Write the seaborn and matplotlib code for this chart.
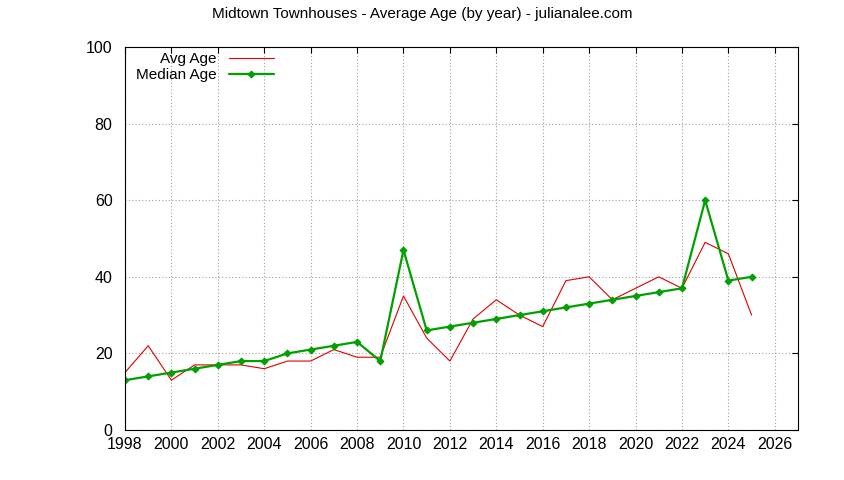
import matplotlib
matplotlib.use("Agg")
import matplotlib.pyplot as plt
import seaborn as sns
import pandas as pd

years = list(range(1998, 2026))
avg_age = [15, 22, 13, 17, 17, 17, 16, 18, 18, 21, 19, 19, 35, 24, 18, 29, 34, 30, 27, 39, 40, 34, 37, 40, 37, 49, 46, 30]
median_age = [13, 14, 15, 16, 17, 18, 18, 20, 21, 22, 23, 18, 47, 26, 27, 28, 29, 30, 31, 32, 33, 34, 35, 36, 37, 60, 39, 40]

sns.set_style("white")
plt.rcParams['font.family'] = ['Liberation Sans', 'DejaVu Sans']
plt.rcParams['text.color'] = 'black'
df = pd.DataFrame({"year": years, "avg": avg_age, "med": median_age})

fig = plt.figure(figsize=(8.44, 4.8), dpi=100)
ax = fig.add_axes([125/844, 50/480, 673/844, 383/480])
sns.lineplot(data=df, x="year", y="avg", ax=ax, color="#e00000", lw=0.8, label="Avg Age")
sns.lineplot(data=df, x="year", y="med", ax=ax, color="#00a000", lw=1.6, marker="D", markersize=3.5,
             markeredgecolor="#00a000", label="Median Age")
ax.set_xlim(1998, 2027)
ax.set_ylim(0, 100)
ax.set_xticks(range(1998, 2027, 2))
ax.set_yticks(range(0, 101, 20))
ax.set_xlabel("")
ax.set_ylabel("")
ax.grid(True, color="#a0a0a0", linestyle=(0, (1, 2)), lw=0.8)
ax.tick_params(direction="in", top=True, right=True, labelsize=11.5, length=4, color="black",
               labelcolor="black")
ax.tick_params(axis="y", pad=9)
ax.tick_params(axis="x", pad=5)
for s in ax.spines.values():
    s.set_color("black"); s.set_linewidth(0.8)
leg = ax.legend(loc="upper left", frameon=False, fontsize=11, markerfirst=False,
                bbox_to_anchor=(0.0, 1.015), handlelength=3, borderpad=0.2, labelspacing=0.15)
for t in leg.get_texts():
    t.set_ha("right")
leg._legend_box.align = "right"
fig.suptitle("Midtown Townhouses - Average Age (by year) - julianalee.com", fontsize=11, y=0.985, x=0.5)
fig.savefig("out.png", dpi=100)
